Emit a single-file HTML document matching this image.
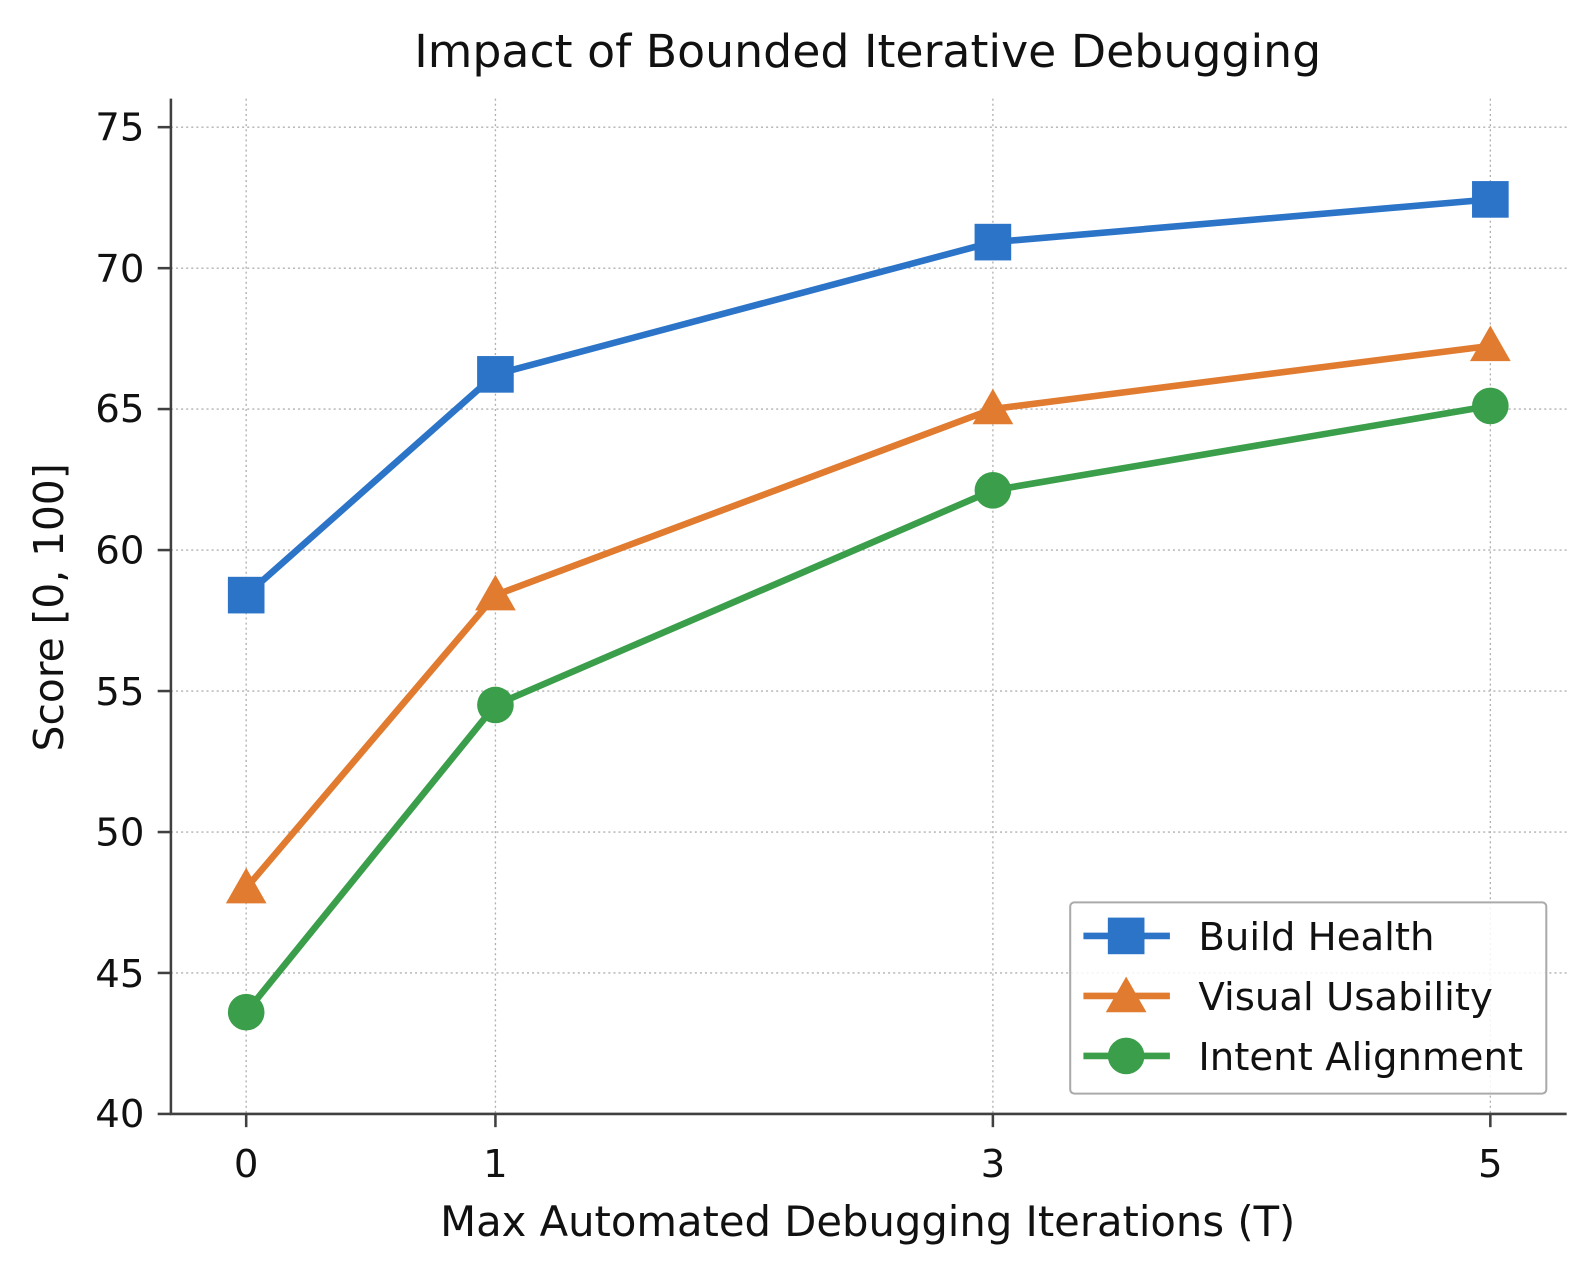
<!DOCTYPE html>
<html><head><meta charset="utf-8"><style>html,body{margin:0;padding:0;background:#fff}</style></head>
<body>
<svg width="1595" height="1274" xmlns="http://www.w3.org/2000/svg" font-family="'DejaVu Sans','Liberation Sans',sans-serif">
<rect width="1595" height="1274" fill="#fff"/>
<g transform="scale(1.0173)">
<g stroke="#b0b0b0" stroke-width="1.3" stroke-dasharray="2,3">
<line x1="242" y1="97" x2="242" y2="1095"/><line x1="487" y1="97" x2="487" y2="1095"/>
<line x1="976" y1="97" x2="976" y2="1095"/><line x1="1465" y1="97" x2="1465" y2="1095"/>
<line x1="168" y1="125" x2="1540" y2="125"/><line x1="168" y1="263.6" x2="1540" y2="263.6"/>
<line x1="168" y1="402.1" x2="1540" y2="402.1"/><line x1="168" y1="540.7" x2="1540" y2="540.7"/>
<line x1="168" y1="679.3" x2="1540" y2="679.3"/><line x1="168" y1="817.9" x2="1540" y2="817.9"/>
<line x1="168" y1="956.4" x2="1540" y2="956.4"/>
</g>
<g stroke="#404040" stroke-width="2.5">
<line x1="168" y1="97" x2="168" y2="1096"/><line x1="167" y1="1095" x2="1540" y2="1095"/>
<line x1="155" y1="125" x2="168" y2="125"/><line x1="155" y1="263.6" x2="168" y2="263.6"/>
<line x1="155" y1="402.1" x2="168" y2="402.1"/><line x1="155" y1="540.7" x2="168" y2="540.7"/>
<line x1="155" y1="679.3" x2="168" y2="679.3"/><line x1="155" y1="817.9" x2="168" y2="817.9"/>
<line x1="155" y1="956.4" x2="168" y2="956.4"/><line x1="155" y1="1095" x2="168" y2="1095"/>
<line x1="242" y1="1095" x2="242" y2="1108"/><line x1="487" y1="1095" x2="487" y2="1108"/>
<line x1="976" y1="1095" x2="976" y2="1108"/><line x1="1465" y1="1095" x2="1465" y2="1108"/>
</g>
<g font-size="38" fill="#111" text-anchor="end">
<text x="142" y="138">75</text><text x="142" y="277">70</text><text x="142" y="415">65</text>
<text x="142" y="554">60</text><text x="142" y="693">55</text><text x="142" y="831">50</text>
<text x="142" y="970">45</text><text x="142" y="1108">40</text>
</g>
<g font-size="38" fill="#111" text-anchor="middle">
<text x="242" y="1157">0</text><text x="487" y="1157">1</text><text x="976" y="1157">3</text><text x="1465" y="1157">5</text>
<text x="853" y="1215" font-size="41">Max Automated Debugging Iterations (T)</text>
<text x="853" y="66" font-size="45">Impact of Bounded Iterative Debugging</text>
<text transform="translate(62,597) rotate(-90)" font-size="40">Score [0, 100]</text>
</g>
<polyline fill="none" stroke="#2b74c8" stroke-width="6.5" points="242,585 487,368 976,238 1465,196"/>
<polyline fill="none" stroke="#e07b30" stroke-width="6.5" points="242,873 487,585 976,402 1465,340"/>
<polyline fill="none" stroke="#3a9e4a" stroke-width="6.5" points="242,995 487,693 976,482 1465,399"/>
<g fill="#2b74c8">
<rect x="224" y="567" width="36" height="36"/><rect x="469" y="350" width="36" height="36"/>
<rect x="958" y="220" width="36" height="36"/><rect x="1447" y="178" width="36" height="36"/>
</g>
<g fill="#e07b30">
<polygon points="242,853 262,888 222,888"/><polygon points="487,565 507,600 467,600"/>
<polygon points="976,382 996,417 956,417"/><polygon points="1465,320 1485,355 1445,355"/>
</g>
<g fill="#3a9e4a">
<circle cx="242" cy="995" r="18"/><circle cx="487" cy="693" r="18"/>
<circle cx="976" cy="482" r="18"/><circle cx="1465" cy="399" r="18"/>
</g>
<rect x="1052" y="887" width="468" height="188" rx="4" fill="#fff" fill-opacity="0.85" stroke="#aaa" stroke-width="2"/>
<line x1="1065" y1="920" x2="1150" y2="920" stroke="#2b74c8" stroke-width="6.5"/>
<rect x="1089" y="902" width="36" height="36" fill="#2b74c8"/>
<line x1="1065" y1="979" x2="1150" y2="979" stroke="#e07b30" stroke-width="6.5"/>
<polygon points="1107,960 1127,995 1087,995" fill="#e07b30"/>
<line x1="1065" y1="1038" x2="1150" y2="1038" stroke="#3a9e4a" stroke-width="6.5"/>
<circle cx="1107" cy="1038" r="18" fill="#3a9e4a"/>
<g font-size="38" fill="#111">
<text x="1178" y="934">Build Health</text><text x="1178" y="993">Visual Usability</text><text x="1178" y="1052">Intent Alignment</text>
</g>
</g>
</svg>
</body></html>
